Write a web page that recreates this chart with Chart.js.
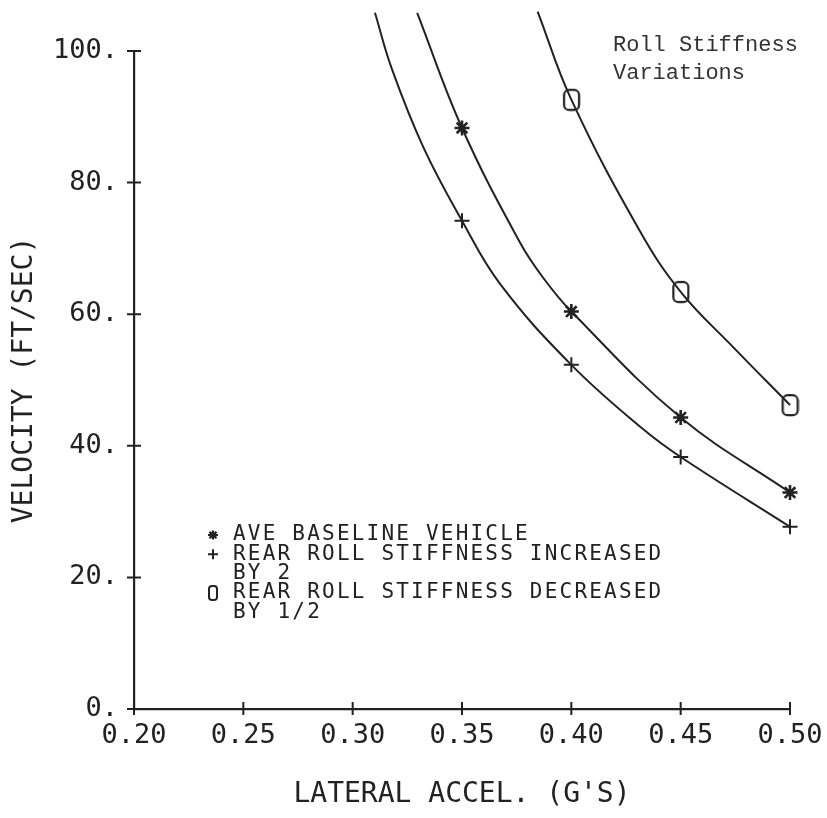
<!DOCTYPE html>
<html>
<head>
<meta charset="utf-8">
<script src="https://cdn.jsdelivr.net/npm/chart.js@4.4.1/dist/chart.umd.min.js"></script>
<style>
  html, body { margin: 0; padding: 0; background: #fff; }
  #wrap { width: 827px; height: 818px; }
</style>
</head>
<body>
<div id="wrap"><canvas id="rollChart" width="827" height="818"></canvas></div>
<script>
// run points, lateral accel (g's)
const accelRun = [0.35, 0.40, 0.45, 0.50];
const accelRunSoft = [0.40, 0.45, 0.50];

// velocity at each run point (ft/sec)
const baselineVel = [88.3, 60.4, 44.3, 32.9];
const stiffRearVel = [74.2, 52.3, 38.3, 27.7];
const softRearVel = [92.6, 63.4, 46.2];

// faired curves through the points, running off the top of the plot
const baselineCurveX = [0.3295, 0.35, 0.3765, 0.3872, 0.40, 0.45, 0.50];
const baselineCurveY = [105.8, 88.3, 70.9, 65.5, 60.4, 44.3, 32.9];
const stiffCurveX = [0.3102, 0.3178, 0.3323, 0.35, 0.3674, 0.40, 0.4322, 0.45, 0.50];
const stiffCurveY = [105.8, 97.4, 85.4, 74.2, 64.6, 52.3, 42.7, 38.3, 27.7];
const softCurveX = [0.3846, 0.40, 0.4314, 0.45, 0.4740, 0.50];
const softCurveY = [106.0, 92.6, 72.6, 63.4, 55.0, 46.2];

// axis ticks
const accelTicks = [0.20, 0.25, 0.30, 0.35, 0.40, 0.45, 0.50];
const velTicks = [0, 20, 40, 60, 80, 100];

const ink = '#222';
const mono = '"DejaVu Sans Mono", monospace';

function pairs(xs, ys) {
  return xs.map((x, i) => ({ x: x, y: ys[i] }));
}

// tall rounded "O" used as the marker for the softened rear
function makeOval(w, h, r, lw) {
  const c = document.createElement('canvas');
  c.width = w + lw * 2;
  c.height = h + lw * 2;
  const g = c.getContext('2d');
  g.strokeStyle = ink;
  g.lineWidth = lw;
  g.beginPath();
  g.roundRect(lw, lw, w, h, r);
  g.stroke();
  return c;
}
const ovalMark = makeOval(15, 20, 5, 2.2);

function curve(label, xs, ys) {
  return {
    label: label,
    data: pairs(xs, ys),
    showLine: true,
    borderColor: ink,
    borderWidth: 2,
    pointRadius: 0,
    tension: 0.4,
    capBezierPoints: false,
    clip: false
  };
}

function marks(label, xs, ys, style, radius, width) {
  return {
    label: label,
    data: pairs(xs, ys),
    showLine: false,
    pointStyle: style,
    pointRadius: radius,
    pointBorderWidth: width,
    pointBorderColor: ink,
    pointBackgroundColor: 'rgba(0,0,0,0)',
    clip: false
  };
}

// tick marks crossing both axes
const axisTicks = {
  id: 'axisTicks',
  afterDraw(chart) {
    const { ctx, scales: { x, y } } = chart;
    ctx.save();
    ctx.strokeStyle = ink;
    ctx.lineWidth = 2;
    ctx.beginPath();
    accelTicks.forEach(v => {
      const px = x.getPixelForValue(v);
      ctx.moveTo(px, y.bottom - 7);
      ctx.lineTo(px, y.bottom + 6);
    });
    velTicks.forEach(v => {
      const py = y.getPixelForValue(v);
      ctx.moveTo(x.left - 7, py);
      ctx.lineTo(x.left + 7, py);
    });
    ctx.stroke();
    ctx.restore();
  }
};

// symbol key and the typed note
const legendRows = [
  { mark: 'star', text: 'AVE BASELINE VEHICLE' },
  { mark: 'cross', text: 'REAR ROLL STIFFNESS INCREASED' },
  { mark: null, text: 'BY 2' },
  { mark: 'oval', text: 'REAR ROLL STIFFNESS DECREASED' },
  { mark: null, text: 'BY 1/2' }
];

const keyBlock = {
  id: 'keyBlock',
  afterDraw(chart) {
    const ctx = chart.ctx;
    ctx.save();
    ctx.fillStyle = ink;
    ctx.strokeStyle = ink;
    ctx.font = '21px ' + mono;
    ctx.letterSpacing = '2.2px';
    ctx.textBaseline = 'middle';
    const sx = 213, tx = 233;
    let ty = 535;
    legendRows.forEach(row => {
      ctx.fillText(row.text, tx, ty);
      if (row.mark === 'star') {
        ctx.lineWidth = 2.2;
        ctx.beginPath();
        for (let k = 0; k < 4; k++) {
          const a = k * Math.PI / 4;
          ctx.moveTo(sx - 5 * Math.cos(a), ty - 4.5 * Math.sin(a));
          ctx.lineTo(sx + 5 * Math.cos(a), ty + 4.5 * Math.sin(a));
        }
        ctx.stroke();
      } else if (row.mark === 'cross') {
        ctx.lineWidth = 2;
        ctx.beginPath();
        ctx.moveTo(sx - 5, ty); ctx.lineTo(sx + 5, ty);
        ctx.moveTo(sx, ty - 5); ctx.lineTo(sx, ty + 5);
        ctx.stroke();
      } else if (row.mark === 'oval') {
        ctx.lineWidth = 2;
        ctx.beginPath();
        ctx.roundRect(sx - 4, ty - 7, 8, 14, 3);
        ctx.stroke();
      }
      ty += 19.3;
    });

    ctx.letterSpacing = '0px';
    ctx.font = '22px "Liberation Mono", monospace';
    ctx.fillStyle = '#333';
    ctx.textBaseline = 'alphabetic';
    ctx.fillText('Roll Stiffness', 613, 51);
    ctx.fillText('Variations', 613, 79);
    ctx.restore();
  }
};

Chart.defaults.font.family = mono;
Chart.defaults.color = ink;

new Chart(document.getElementById('rollChart').getContext('2d'), {
  type: 'scatter',
  data: {
    datasets: [
      curve('baseline curve', baselineCurveX, baselineCurveY),
      curve('stiff rear curve', stiffCurveX, stiffCurveY),
      curve('soft rear curve', softCurveX, softCurveY),
      marks('AVE BASELINE VEHICLE', accelRun, baselineVel, 'star', 7.5, 2.6),
      marks('REAR ROLL STIFFNESS INCREASED BY 2', accelRun, stiffRearVel, 'cross', 7.5, 2),
      marks('REAR ROLL STIFFNESS DECREASED BY 1/2', accelRunSoft, softRearVel, ovalMark, 10, 2)
    ]
  },
  options: {
    responsive: false,
    animation: false,
    devicePixelRatio: 1,
    layout: { padding: { top: 51, right: 37, left: 0, bottom: 0 } },
    plugins: { legend: { display: false }, tooltip: { enabled: false } },
    scales: {
      x: {
        type: 'linear',
        min: 0.20,
        max: 0.50,
        afterFit(scale) {
          scale.height = 109;
          scale.paddingLeft = 0;
          scale.paddingRight = 0;
        },
        afterBuildTicks(scale) { scale.ticks = accelTicks.map(v => ({ value: v })); },
        grid: { display: false, drawTicks: false },
        border: { display: true, color: ink, width: 2.2 },
        ticks: {
          padding: 11,
          font: { size: 27 },
          color: ink,
          callback: v => v.toFixed(2)
        },
        title: {
          display: true,
          text: "LATERAL ACCEL. (G'S)",
          font: { size: 28 },
          color: ink,
          padding: { top: 0, bottom: 6 }
        }
      },
      y: {
        type: 'linear',
        min: 0,
        max: 100,
        afterFit(scale) {
          scale.width = 134;
          scale.paddingTop = 0;
          scale.paddingBottom = 0;
        },
        afterBuildTicks(scale) { scale.ticks = velTicks.map(v => ({ value: v })); },
        grid: { display: false, drawTicks: false },
        border: { display: true, color: ink, width: 2.2 },
        ticks: {
          padding: 16,
          font: { size: 27 },
          color: ink,
          callback: v => v + '.'
        },
        title: {
          display: true,
          text: 'VELOCITY (FT/SEC)',
          font: { size: 28 },
          color: ink,
          padding: { top: 8, bottom: 0 }
        }
      }
    }
  },
  plugins: [axisTicks, keyBlock]
});
</script>
</body>
</html>
